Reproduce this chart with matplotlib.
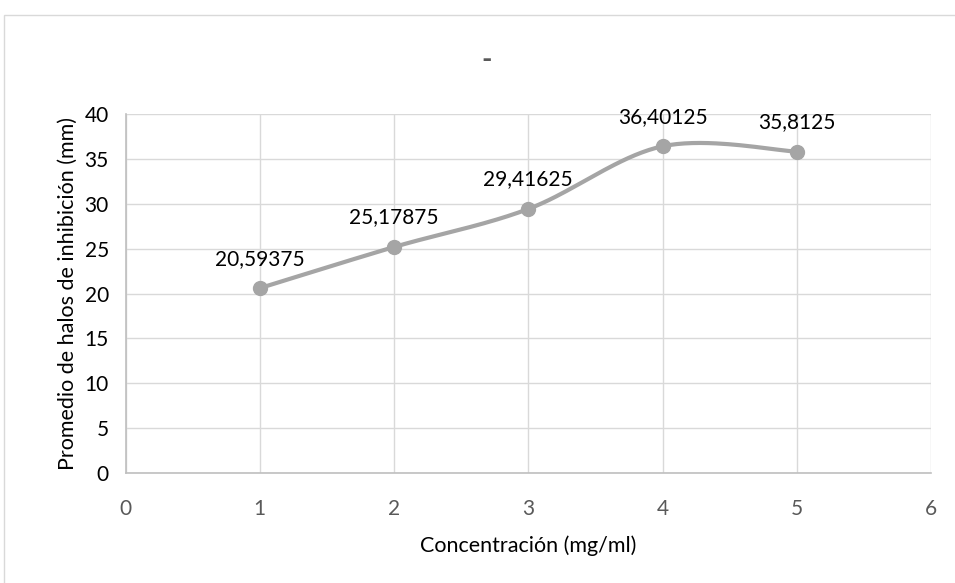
import numpy as np
import matplotlib.pyplot as plt
from matplotlib.patches import Rectangle

plt.rcParams['font.family'] = ['Lato', 'DejaVu Sans']

conc = [1, 2, 3, 4, 5]
halos = [20.59375, 25.17875, 29.41625, 36.40125, 35.8125]
labels = ["20,59375", "25,17875", "29,41625", "36,40125", "35,8125"]
x_ticks = [0, 1, 2, 3, 4, 5, 6]
y_ticks = [0, 5, 10, 15, 20, 25, 30, 35, 40]


def smooth_curve(x, y, n=40):
    # cubic bezier through the points, control points from neighbours (tension 1/6)
    x = np.asarray(x, float)
    y = np.asarray(y, float)
    px = np.concatenate([[x[0]], x, [x[-1]]])
    py = np.concatenate([[y[0]], y, [y[-1]]])
    out_x, out_y = [], []
    t = np.linspace(0, 1, n)
    for i in range(1, len(px) - 2):
        p0 = np.array([px[i], py[i]])
        p3 = np.array([px[i + 1], py[i + 1]])
        c1 = p0 + (np.array([px[i + 1], py[i + 1]]) - np.array([px[i - 1], py[i - 1]])) / 6
        c2 = p3 - (np.array([px[i + 2], py[i + 2]]) - np.array([px[i], py[i]])) / 6
        b = ((1 - t) ** 3)[:, None] * p0 + (3 * (1 - t) ** 2 * t)[:, None] * c1 \
            + (3 * (1 - t) * t ** 2)[:, None] * c2 + (t ** 3)[:, None] * p3
        out_x.extend(b[:, 0])
        out_y.extend(b[:, 1])
    return out_x, out_y


fig = plt.figure(figsize=(9.55, 5.83), dpi=100)
fig.patches.append(Rectangle((4 / 955, -0.01), 1.0, 1 - 15 / 583 + 0.01,
                             transform=fig.transFigure, fill=False,
                             edgecolor="#d9d9d9", linewidth=1.0))

ax = fig.add_axes([125.5 / 955, 110 / 583, (931 - 125.5) / 955, (473 - 114) / 583])

sx, sy = smooth_curve(conc, halos)
ax.plot(sx, sy, color="#a5a5a5", linewidth=3, solid_capstyle="round", zorder=3)
ax.plot(conc, halos, "o", color="#a5a5a5", markersize=10, zorder=4)

for xv, yv, lab in zip(conc, halos, labels):
    ax.annotate(lab, (xv, yv), xytext=(0, 14), textcoords="offset points",
                ha="center", va="bottom", fontsize=15, color="#000000")

ax.set_xlim(0, 6)
ax.set_ylim(0, 40)
ax.set_xticks(x_ticks)
ax.set_yticks(y_ticks)
ax.grid(True, color="#d9d9d9", linewidth=1)
ax.set_axisbelow(True)
ax.tick_params(length=0, labelsize=15, labelcolor="#595959", pad=19)
ax.tick_params(axis="y", labelcolor="#000000", pad=12)
for side in ["top", "right"]:
    ax.spines[side].set_visible(False)
for side in ["left", "bottom"]:
    ax.spines[side].set_color("#bfbfbf")
    ax.spines[side].set_linewidth(1.2)

ax.set_xlabel("Concentración (mg/ml)", fontsize=15.5, color="#000000")
ax.set_ylabel("Promedio de halos de inhibición (mm)", fontsize=15.5, color="#000000")
ax.xaxis.set_label_coords(0.5, -0.203)
ax.yaxis.set_label_coords(-0.0714, 0.5)
ax.yaxis.label.set_va("center")
ax.xaxis.label.set_va("center")
fig.text(487 / 955, 1 - 60 / 583, "-", ha="center", va="center", fontsize=20,
         fontweight="bold", color="#595959")

fig.savefig("out.png", dpi=100)
